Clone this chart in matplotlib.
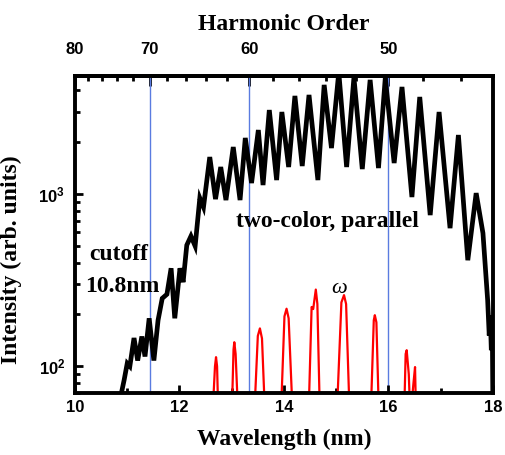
import numpy as np
import matplotlib
matplotlib.use("Agg")
import matplotlib.pyplot as plt
from matplotlib.ticker import FixedLocator, LogLocator, NullFormatter

# laser wavelength used to convert wavelength <-> harmonic order
lam0 = 800.0

# two-color spectrum (black)
wl_2c = [10.88, 10.94, 11.00, 11.05, 11.13, 11.20, 11.28, 11.34, 11.42, 11.51,
         11.59, 11.67, 11.76, 11.84, 11.91, 12.01, 12.07, 12.14, 12.22, 12.30,
         12.39, 12.46, 12.58, 12.69, 12.79, 12.89, 13.03, 13.16, 13.26, 13.38,
         13.51, 13.60, 13.72, 13.86, 13.96, 14.09, 14.21, 14.35, 14.48, 14.65,
         14.77, 14.91, 15.05, 15.20, 15.34, 15.50, 15.65, 15.81, 15.94, 16.11,
         16.26, 16.45, 16.60, 16.80, 16.97, 17.18, 17.34, 17.52, 17.68, 17.81,
         17.90, 17.93, 17.95, 17.97, 17.99, 18.00]
int_2c = [68, 83, 104, 100, 146, 108, 149, 114, 190, 108,
          185, 248, 262, 371, 190, 371, 308, 505, 570, 499,
          948, 840, 1641, 935, 1436, 923, 1876, 923, 2118, 1159,
          2355, 1128, 3076, 1206, 2997, 1436, 3715, 1455, 3765, 1206,
          4305, 1850, 5100, 1436, 4750, 1397, 4604, 1416, 4724, 1514,
          4189, 961, 3664, 755, 2997, 634, 2203, 413, 1013, 593,
          242, 151, 198, 124, 151, 60]

# fundamental only spectrum (red)
wl_w = [12.63, 12.68, 12.70, 12.72, 12.745,
        13.00, 13.035, 13.05, 13.075, 13.125,
        13.43, 13.50, 13.54, 13.58, 13.64,
        13.94, 14.01, 14.05, 14.09, 14.17,
        14.47, 14.53, 14.56, 14.61, 14.64, 14.69,
        15.01, 15.10, 15.15, 15.19, 15.26,
        15.66, 15.72, 15.74, 15.77, 15.82,
        16.30, 16.33, 16.35, 16.39, 16.42, 16.48, 16.51, 16.53]
int_w = [50, 100, 113, 100, 50,
         50, 125, 138, 118, 50,
         50, 150, 166, 145, 50,
         50, 195, 216, 190, 50,
         50, 221, 215, 279, 230, 50,
         50, 235, 259, 230, 50,
         50, 185, 198, 180, 50,
         50, 118, 124, 90, 50, 80, 99, 50]

orders_major = [80, 70, 60, 50]
orders_minor = [78, 76, 74, 72, 68, 66, 64, 62, 58, 56, 54, 52, 48, 46]
orders_lines = [70, 60, 50]

serif = 'Liberation Serif'
sans = 'Liberation Sans'
plt.rcParams['mathtext.fontset'] = 'custom'
plt.rcParams['mathtext.rm'] = 'Liberation Sans:bold'
plt.rcParams['mathtext.bf'] = 'Liberation Sans:bold'

fig = plt.figure(figsize=(5.05, 4.55), dpi=100)
ax = fig.add_axes([0.1485, 0.1363, 0.8275, 0.6967])

for q in orders_lines:
    ax.axvline(lam0 / q, color='#5a7be0', lw=1.0, zorder=1)

ax.plot(wl_w, int_w, color='red', lw=1.6, zorder=2)
ax.plot(wl_2c, int_2c, color='black', lw=3.4, zorder=3, solid_joinstyle='miter')

ax.set_yscale('log')
ax.set_xlim(10, 18)
ax.set_ylim(70, 4850)

ax.set_xticks([10, 12, 14, 16, 18])
ax.set_xticks([11, 13, 15, 17], minor=True)
ax.set_yticks([100, 1000])
ax.set_yticklabels([r'$\mathrm{10^{2}}$', r'$\mathrm{10^{3}}$'])
ax.yaxis.set_minor_locator(LogLocator(base=10, subs=np.arange(2, 10)))
ax.yaxis.set_minor_formatter(NullFormatter())

ax.tick_params(which='both', direction='in', top=False, right=False, width=2)
ax.tick_params(which='major', length=6)
ax.tick_params(which='minor', length=3.5)
ax.tick_params(axis='x', pad=5)
ax.tick_params(axis='y', pad=7)
for lab in ax.get_xticklabels() + ax.get_yticklabels():
    lab.set_fontfamily(sans)
    lab.set_fontweight('bold')
    lab.set_fontsize(12)
for s in ax.spines.values():
    s.set_linewidth(2.8)

sec = ax.secondary_xaxis('top', functions=(lambda x: lam0 / np.asarray(x, float),
                                            lambda q: lam0 / np.asarray(q, float)))
sec.xaxis.set_major_locator(FixedLocator(orders_major))
sec.xaxis.set_minor_locator(FixedLocator(orders_minor))
sec.tick_params(which='both', direction='in', width=2)
sec.tick_params(which='major', length=7, pad=14)
sec.tick_params(which='minor', length=3.5)
sec.spines['top'].set_linewidth(2.8)
for lab in sec.get_xticklabels():
    lab.set_fontfamily(sans)
    lab.set_fontweight('bold')
    lab.set_fontsize(12)
sec.set_xlabel('Harmonic Order', fontfamily=serif, fontweight='bold', fontsize=17, labelpad=8)

ax.set_xlabel('Wavelength (nm)', fontfamily=serif, fontweight='bold', fontsize=17, labelpad=10)
ax.set_ylabel('Intensity (arb. units)', fontfamily=serif, fontweight='bold', fontsize=17)
ax.yaxis.set_label_coords(-0.127, 0.42)

ax.text(13.08, 643, 'two-color, parallel', fontfamily=serif, fontweight='bold', fontsize=17)
ax.text(10.27, 413, 'cutoff', fontfamily=serif, fontweight='bold', fontsize=17)
ax.text(10.19, 270, '10.8nm', fontfamily=serif, fontweight='bold', fontsize=17)
ax.text(14.91, 267, 'ω', fontfamily=serif, style='italic', fontsize=16)

fig.savefig('out.png', dpi=100)
